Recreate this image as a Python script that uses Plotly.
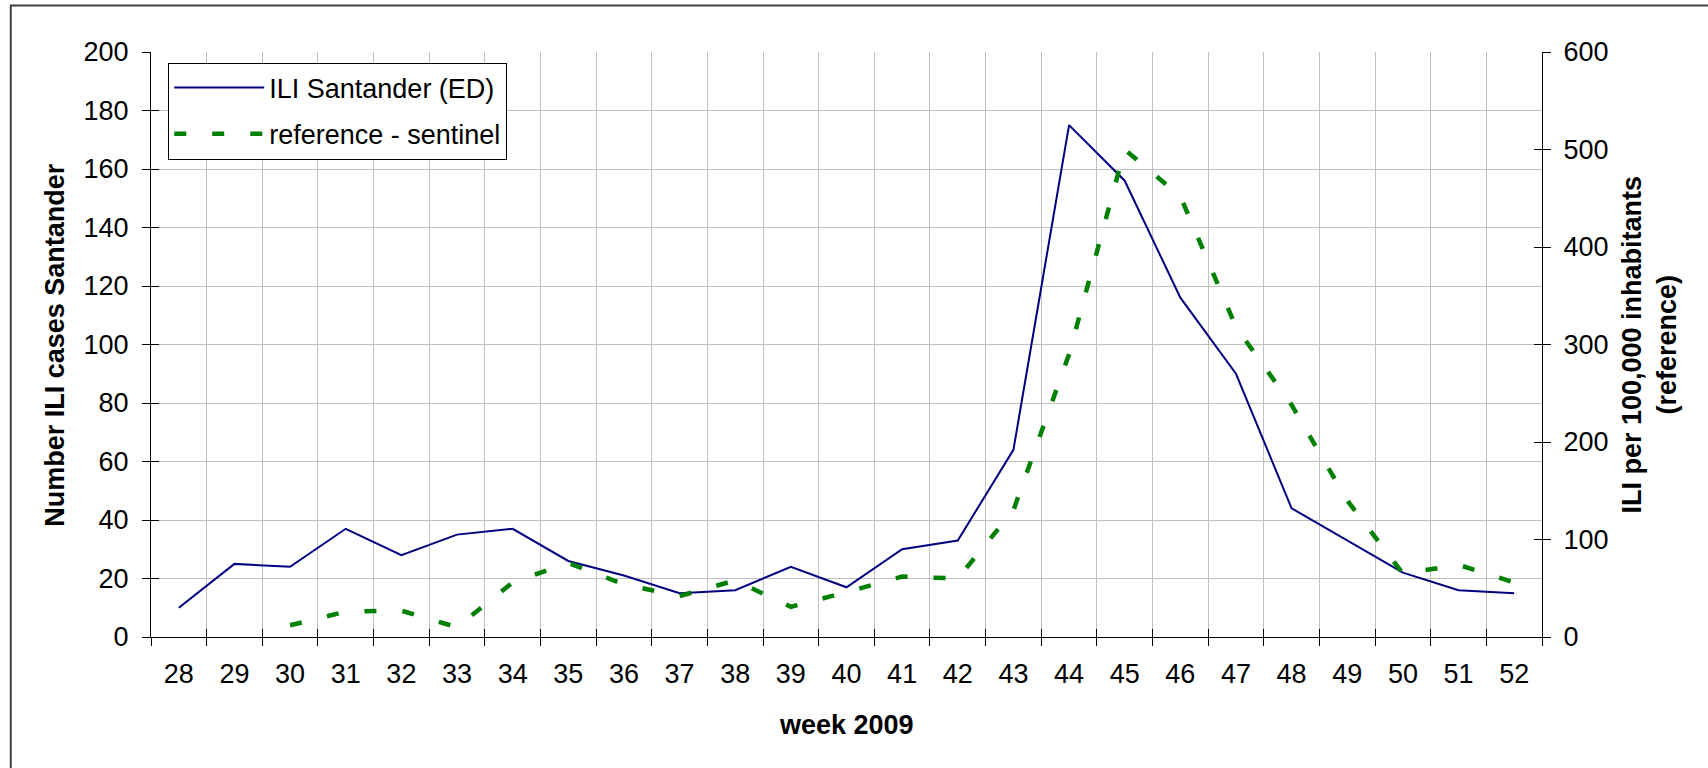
import plotly.graph_objects as go

# ---- data ----
weeks = [str(w) for w in range(28, 53)]
ili_santander = [10, 25, 24, 37, 28, 35, 37, 26, 21, 15, 16, 24, 17, 30, 33,
                 64, 175, 156, 116, 90, 44, 33, 22, 16, 15]
reference_sentinel = [None, None, 12, 26, 27, 10, 56, 76, 54, 42, 58, 31, 46, 62, 60,
                      130, 290, 500, 452, 318, 238, 140, 65, 74, 56]
left_ticks = list(range(0, 201, 20))
right_ticks = list(range(0, 601, 100))

FONT = "Liberation Sans, Arial, sans-serif"
TICKF = dict(family=FONT, size=27, color="black")
GRID = "#c0c0c0"

fig = go.Figure()
fig.add_trace(go.Scatter(
    x=weeks, y=ili_santander, mode="lines", name="ILI Santander (ED)",
    line=dict(color="#000080", width=2), legendgroup="a", yaxis="y"))
fig.add_trace(go.Scatter(
    x=weeks, y=reference_sentinel, mode="lines", name="reference - sentinel",
    line=dict(color="#008000", width=4.5, dash="12px,26px"),
    legendgroup="b", yaxis="y2", connectgaps=False))
# invisible helpers so the inner halves of the crossing tick marks are drawn
fig.add_trace(go.Scatter(x=weeks, y=[None] * len(weeks), xaxis="x2", yaxis="y3",
                         showlegend=False, hoverinfo="skip"))
fig.add_trace(go.Scatter(x=weeks, y=[None] * len(weeks), xaxis="x2", yaxis="y4",
                         showlegend=False, hoverinfo="skip"))

fig.update_layout(
    width=1708, height=768,
    margin=dict(l=151, r=166, t=52, b=131),
    paper_bgcolor="white", plot_bgcolor="white",
    font=dict(family=FONT, color="black"),
    xaxis=dict(type="category", categoryorder="array", categoryarray=weeks,
               range=[-0.5, len(weeks) - 0.5], tickson="boundaries",
               showgrid=True, gridcolor=GRID, gridwidth=1,
               showline=True, linecolor="black", linewidth=1,
               ticks="outside", ticklen=8, tickcolor="black", tickwidth=1,
               tickfont=TICKF, ticklabelstandoff=13, zeroline=False),
    xaxis2=dict(type="category", categoryorder="array", categoryarray=weeks,
                range=[-0.5, len(weeks) - 0.5], tickson="boundaries",
                overlaying="x", side="bottom", showgrid=False, showline=False,
                ticks="inside", ticklen=8, tickcolor="black", tickwidth=1,
                showticklabels=False, zeroline=False),
    yaxis=dict(range=[0, 200], tickvals=left_ticks,
               showgrid=True, gridcolor=GRID, gridwidth=1,
               showline=True, linecolor="black", linewidth=1,
               ticks="outside", ticklen=8, tickcolor="black", tickwidth=1,
               tickfont=TICKF, ticklabelstandoff=8, zeroline=False),
    yaxis2=dict(range=[0, 600], tickvals=right_ticks, overlaying="y", side="right",
                showgrid=False, showline=True, linecolor="black", linewidth=1,
                ticks="outside", ticklen=8, tickcolor="black", tickwidth=1,
                tickfont=TICKF, ticklabelstandoff=7, zeroline=False),
    yaxis3=dict(range=[0, 200], tickvals=left_ticks, overlaying="y", side="left",
                showgrid=False, showline=False, ticks="inside", ticklen=8,
                tickcolor="black", showticklabels=False, zeroline=False),
    yaxis4=dict(range=[0, 600], tickvals=right_ticks, overlaying="y", side="right",
                showgrid=False, showline=False, ticks="inside", ticklen=8,
                tickcolor="black", showticklabels=False, zeroline=False),
    legend=dict(x=0.0124, y=0.982, xanchor="left", yanchor="top",
                bgcolor="white", bordercolor="black", borderwidth=1,
                font=dict(family=FONT, size=27, color="black"),
                traceorder="grouped", tracegroupgap=8, itemwidth=90),
    showlegend=True,
    annotations=[
        dict(text="<b>week 2009</b>", xref="paper", yref="paper", x=0.5, y=-0.151,
             xanchor="center", yanchor="middle", showarrow=False,
             font=dict(family=FONT, size=27, color="black")),
        dict(text="<b>Number ILI cases Santander</b>", xref="paper", yref="paper",
             x=-0.0695, y=0.5, xanchor="center", yanchor="middle", textangle=-90,
             showarrow=False, font=dict(family=FONT, size=27, color="black")),
        dict(text="<b>ILI per 100,000 inhabitants<br>(reference)</b>", xref="paper",
             yref="paper", x=1.077, y=0.5, xanchor="center", yanchor="middle",
             textangle=-90, showarrow=False,
             font=dict(family=FONT, size=27, color="black")),
    ],
    shapes=[dict(type="rect", xref="paper", yref="paper",
                 x0=-0.1008, x1=1.15, y0=-0.3, y1=1.0794,
                 line=dict(color="#404040", width=2), layer="below")],
)

fig.write_html("out.html")
